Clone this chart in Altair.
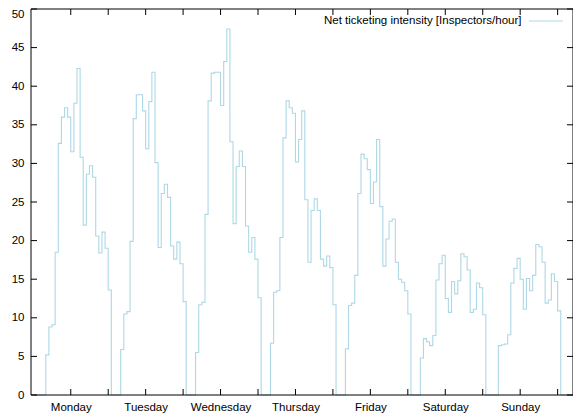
import altair as alt
import pandas as pd

# ---- data ----
day_names = ["Monday", "Tuesday", "Wednesday", "Thursday", "Friday", "Saturday", "Sunday"]
day_label_hours = [12, 36, 60, 84, 108, 132, 156]
x_tick_hours = [12, 24, 36, 48, 60, 72, 84, 96, 108, 120, 132, 144, 156, 168]
y_tick_values = [0, 5, 10, 15, 20, 25, 30, 35, 40, 45, 50]
service_start = [4, 28, 52, 76, 100, 124, 149]

monday = [5.2, 8.8, 9.1, 18.5, 32.6, 36.0, 37.2, 36.0, 31.5, 37.8, 42.3,
          30.8, 22.0, 28.6, 29.7, 28.2, 20.6, 18.4, 21.1, 19.0, 13.6]
tuesday = [5.9, 10.5, 10.8, 19.9, 35.8, 38.9, 38.9, 36.8, 31.9, 38.0, 41.8,
           30.1, 19.1, 26.1, 27.3, 25.6, 19.3, 17.6, 19.8, 17.0, 12.1]
wednesday = [5.5, 11.7, 12.0, 23.4, 38.1, 41.7, 41.8, 41.8, 37.5, 43.2, 47.4,
             32.8, 22.2, 29.6, 31.6, 29.6, 21.9, 18.5, 20.4, 17.6, 12.6]
thursday = [6.7, 13.3, 13.5, 20.4, 33.3, 38.1, 37.2, 36.5, 30.2, 33.1, 36.8,
            25.3, 17.2, 23.9, 25.4, 23.9, 17.6, 16.7, 18.0, 16.5, 11.7]
friday = [6.0, 11.6, 11.9, 15.5, 26.1, 31.2, 30.6, 29.2, 24.8, 27.6, 33.1,
          24.4, 16.7, 20.2, 22.5, 22.8, 17.2, 15.0, 14.6, 13.5, 10.5]
saturday = [4.8, 7.3, 6.9, 6.4, 7.7, 14.9, 17.0, 18.1, 12.5, 10.7, 14.7,
            13.1, 14.8, 18.3, 17.9, 16.2, 10.7, 11.1, 14.5, 13.9, 10.4]
sunday = [6.4, 6.5, 6.6, 7.8, 14.5, 16.4, 17.7, 15.0, 11.1, 15.1, 13.5,
          15.5, 19.5, 19.2, 17.2, 11.9, 12.3, 15.7, 14.7, 10.9]

legend_label = "Net ticketing intensity [Inspectors/hour]"

# ---- build the hourly table ----
days = [monday, tuesday, wednesday, thursday, friday, saturday, sunday]
hours = list(range(0, 174))
values = [0.0] * len(hours)
for start, series in zip(service_start, days):
    for i, v in enumerate(series):
        values[start + i] = v
df = pd.DataFrame({"h": hours, "v": values})

W, H = 542, 386
PX_PER_HOUR = 3.121
X_LO = -2.3 / PX_PER_HOUR
X_HI = (W - 2.3) / PX_PER_HOUR
LINE = "#add8e6"
FONT = "Liberation Sans"
FS = 11.5

xs = alt.Scale(domain=[X_LO, X_HI], nice=False, zero=False)
ys = alt.Scale(domain=[0, 50], nice=False, zero=False)

names_expr = "[" + ",".join("'%s'" % d for d in day_names) + "][floor(datum.value / 24)]"

x_axis = alt.Axis(values=day_label_hours, labelExpr=names_expr, ticks=False, tickSize=0,
                  domain=False, grid=False, labelPadding=6, labelFont=FONT,
                  labelFontSize=FS, labelColor="#000000", labelFlush=False)
y_axis = alt.Axis(values=y_tick_values, ticks=False, tickSize=0, domain=False, grid=False,
                  labelPadding=7, labelFont=FONT, labelFontSize=FS,
                  labelColor="#000000", labelFlush=False,
                  labelOffset={"condition": {"test": "datum.value == 50", "value": 5}, "value": 0})

line = alt.Chart(df).mark_line(interpolate="step-after", color=LINE, strokeWidth=1.1).encode(
    x=alt.X("h:Q", scale=xs, title=None, axis=x_axis),
    y=alt.Y("v:Q", scale=ys, title=None, axis=y_axis),
)

ydf = pd.DataFrame({"t": y_tick_values})
xdf = pd.DataFrame({"t": x_tick_hours})

y_left = alt.Chart(ydf).mark_rule(color="black", strokeWidth=1).encode(
    y=alt.Y("t:Q", scale=ys, title=None, axis=y_axis), x=alt.value(0), x2=alt.value(6))
y_right = alt.Chart(ydf).mark_rule(color="black", strokeWidth=1).encode(
    y=alt.Y("t:Q", scale=ys, title=None, axis=y_axis), x=alt.value(W - 6), x2=alt.value(W))
x_bottom = alt.Chart(xdf).mark_rule(color="black", strokeWidth=1).encode(
    x=alt.X("t:Q", scale=xs, title=None, axis=x_axis), y=alt.value(H - 6), y2=alt.value(H))
x_top = alt.Chart(xdf).mark_rule(color="black", strokeWidth=1).encode(
    x=alt.X("t:Q", scale=xs, title=None, axis=x_axis), y=alt.value(0), y2=alt.value(6))
frame = alt.Chart(ydf.head(1)).mark_rect(fill=None, stroke="black", strokeWidth=1).encode(
    x=alt.value(0), x2=alt.value(W), y=alt.value(0), y2=alt.value(H))

ldf = pd.DataFrame({"label": [legend_label]})
legend_text = alt.Chart(ldf).mark_text(align="right", baseline="middle", font=FONT,
                                       fontSize=FS, color="#000000").encode(
    x=alt.value(490.5), y=alt.value(12), text="label:N")
legend_line = alt.Chart(ldf).mark_rule(color=LINE, strokeWidth=1.1).encode(
    x=alt.value(498), x2=alt.value(532), y=alt.value(12))

chart = alt.layer(line, y_left, y_right, x_bottom, x_top, frame, legend_text, legend_line).properties(
    width=W, height=H,
    autosize=alt.AutoSizeParams(type="none"),
    padding={"left": 23, "top": 1, "right": 0, "bottom": 19},
    background="white",
).configure_view(stroke=None)

chart.save("out.html", embed_options={"renderer": "svg", "actions": False})
